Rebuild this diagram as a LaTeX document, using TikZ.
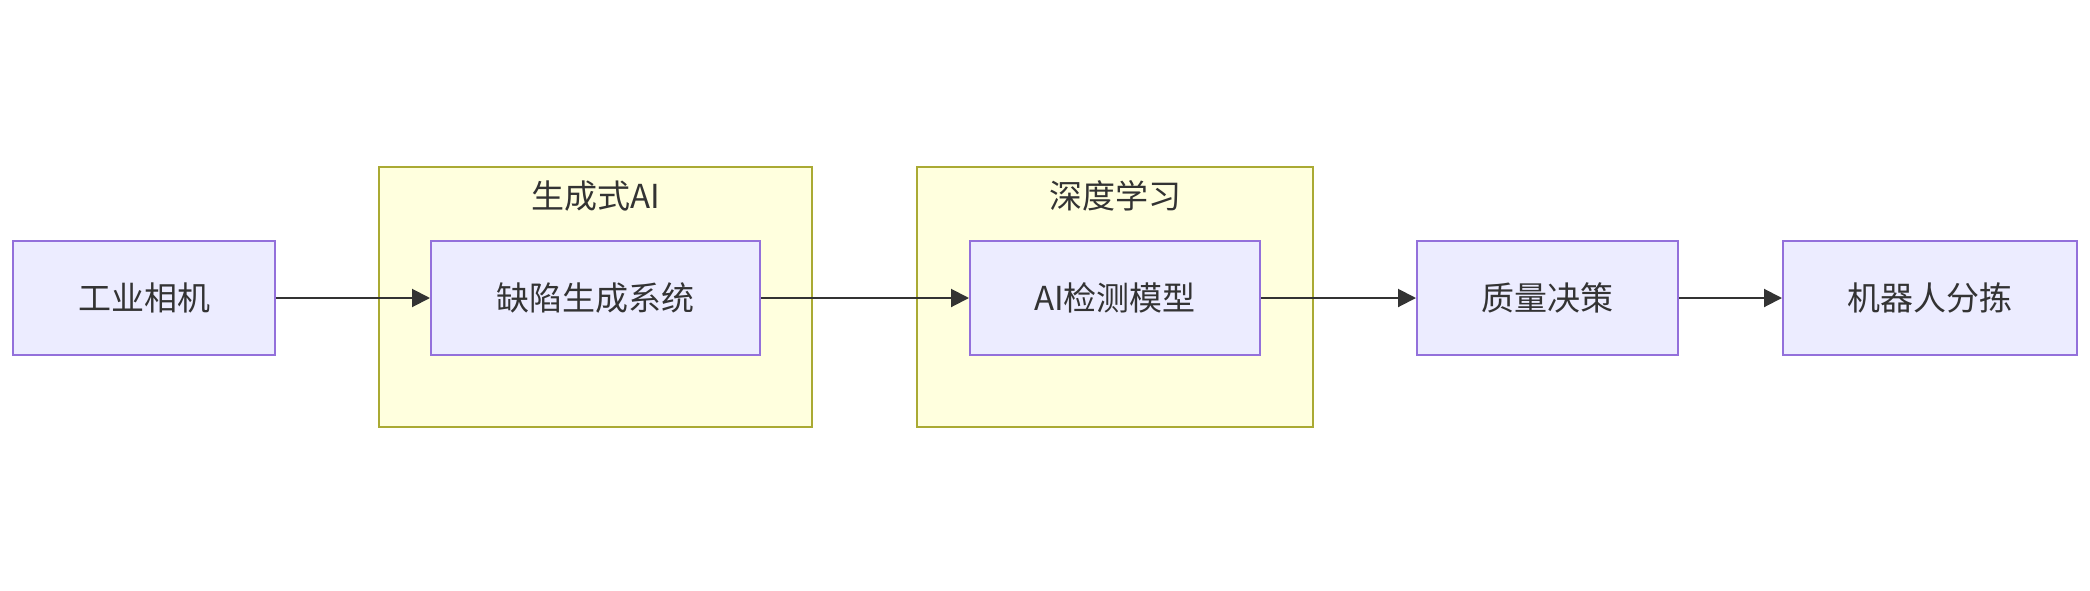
\documentclass[tikz,border=0pt]{standalone}
\usepackage{fontspec}
\setmainfont{Noto Sans CJK SC}
\usetikzlibrary{arrows.meta}
\definecolor{nodefill}{HTML}{ECECFF}
\definecolor{nodeline}{HTML}{9370DB}
\definecolor{clfill}{HTML}{FFFFDE}
\definecolor{clline}{HTML}{AAAA33}
\definecolor{ink}{HTML}{333333}
\tikzset{
  box/.style={draw=nodeline, fill=nodefill, line width=1pt, minimum height=57pt, inner sep=0pt, text=ink, font=\fontsize{16.5pt}{20pt}\selectfont},
  cluster/.style={draw=clline, fill=clfill, line width=1pt},
  cltitle/.style={text=ink, font=\fontsize{16.5pt}{20pt}\selectfont, inner sep=0pt},
  flow/.style={draw=ink, line width=1pt, -{Triangle[length=9pt,width=9pt]}}
}
\begin{document}
\begin{tikzpicture}[x=0.5pt,y=-0.5pt]
\useasboundingbox (0,0) rectangle (2090,590);
\draw[cluster] (379,167) rectangle (812,427);
\draw[cluster] (917,167) rectangle (1313,427);
\node[cltitle] (t1) at (595.5,196) {生成式AI};
\node[cltitle] (t2) at (1115,196) {深度学习};
\node[box, minimum width=131pt] (a) at (144,298) {工业相机};
\node[box, minimum width=164.5pt] (b) at (595.5,298) {缺陷生成系统};
\node[box, minimum width=145pt] (c) at (1115,298) {AI检测模型};
\node[box, minimum width=130.5pt] (d) at (1547.5,298) {质量决策};
\node[box, minimum width=147pt] (e) at (1930,298) {机器人分拣};
\draw[flow] (a) -- (b);
\draw[flow] (b) -- (c);
\draw[flow] (c) -- (d);
\draw[flow] (d) -- (e);
\end{tikzpicture}
\end{document}
